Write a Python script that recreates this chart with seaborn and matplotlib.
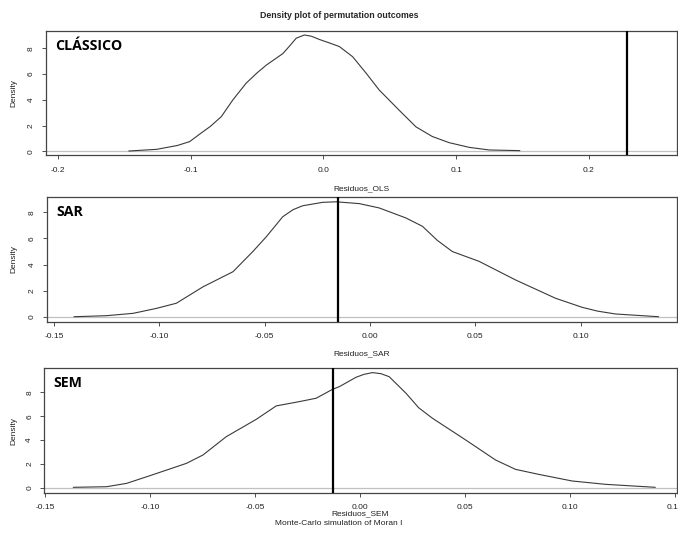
import numpy as np
import pandas as pd
import matplotlib
matplotlib.use("Agg")
import matplotlib.pyplot as plt
import seaborn as sns

# density curves (x = residual Moran I, y = density)
ols_x = [-0.1466, -0.1256, -0.11, -0.1008, -0.093, -0.085, -0.0769, -0.0682, -0.0582, -0.05,
         -0.0431, -0.0306, -0.025, -0.0205, -0.0143, -0.009, -0.003, 0.004, 0.012, 0.022,
         0.032, 0.042, 0.057, 0.0697, 0.082, 0.0947, 0.11, 0.125, 0.148]
ols_y = [0.02, 0.15, 0.45, 0.75, 1.35, 1.95, 2.7, 4.0, 5.3, 6.1,
         6.7, 7.6, 8.25, 8.8, 9.05, 8.95, 8.7, 8.45, 8.15, 7.36,
         6.1, 4.77, 3.2, 1.9, 1.15, 0.67, 0.3, 0.1, 0.05]

sar_x = [-0.1405, -0.125, -0.1124, -0.1013, -0.0919, -0.0793, -0.065, -0.0556, -0.0492,
         -0.0414, -0.0365, -0.0319, -0.0224, -0.016, -0.005, 0.0044, 0.017, 0.0249, 0.032,
         0.0391, 0.0518, 0.0691, 0.0881, 0.1007, 0.108, 0.1165, 0.137]
sar_y = [0.02, 0.1, 0.28, 0.66, 1.05, 2.3, 3.46, 5.0, 6.13,
         7.66, 8.2, 8.5, 8.76, 8.8, 8.66, 8.33, 7.57, 6.93, 5.85,
         5.0, 4.25, 2.83, 1.43, 0.74, 0.45, 0.23, 0.02]

sem_x = [-0.1366, -0.1207, -0.1112, -0.1001, -0.0827, -0.0748, -0.0637, -0.0494, -0.0399,
         -0.0288, -0.0209, -0.013, -0.0098, -0.0019, 0.002, 0.006, 0.01, 0.0139, 0.0219,
         0.028, 0.0345, 0.0504, 0.0646, 0.0741, 0.0852, 0.101, 0.1169, 0.1407]
sem_y = [0.06, 0.11, 0.39, 1.03, 2.06, 2.76, 4.29, 5.74, 6.86,
         7.22, 7.5, 8.25, 8.47, 9.25, 9.5, 9.64, 9.55, 9.3, 7.92,
         6.7, 5.83, 4.01, 2.34, 1.56, 1.14, 0.59, 0.31, 0.06]

# observed Moran I for each model
observed = [0.229, -0.0153, -0.013]

names = ["CLÁSSICO", "SAR", "SEM"]
xlabels = ["Residuos_OLS", "Residuos_SAR", "Residuos_SEM"]
xticks = [[-0.2, -0.1, 0.0, 0.1, 0.2],
          [-0.15, -0.10, -0.05, 0.00, 0.05, 0.10],
          [-0.15, -0.10, -0.05, 0.00, 0.05, 0.10, 0.15]]
xticklabels = [["-0.2", "-0.1", "0.0", "0.1", "0.2"],
               ["-0.15", "-0.10", "-0.05", "0.00", "0.05", "0.10"],
               ["-0.15", "-0.10", "-0.05", "0.00", "0.05", "0.10", "0.15"]]
yticks = [0, 2, 4, 6, 8]

sns.set_style("ticks")
plt.rcParams["font.family"] = ["Liberation Sans", "DejaVu Sans"]

fig = plt.figure(figsize=(6.78, 5.35), dpi=100)

# panel boxes in pixels: left, top, bottom ; plus axis limits
boxes = [(46, 31, 155.5), (47, 196.7, 321.7), (44.3, 368.3, 493.3)]
xlab_top = [185, 350.5, 510.5]
xlims = [(-0.209, 0.266), (-0.1533, 0.1455), (-0.1504, 0.1508)]
ylims = [(-0.33, 9.36), (-0.36, 9.19), (-0.44, 10.0)]
W, H = 678, 535

curves = [(ols_x, ols_y), (sar_x, sar_y), (sem_x, sem_y)]

for i in range(3):
    l, t, b = boxes[i]
    ax = fig.add_axes([l / W, 1 - b / H, (676.5 - l) / W, (b - t) / H])
    df = pd.DataFrame({"x": curves[i][0], "y": curves[i][1]})
    ax.axhline(0, color="#c0c0c0", lw=0.9, zorder=1)
    sns.lineplot(data=df, x="x", y="y", ax=ax, color="#3a3a3a", lw=0.8, zorder=2)
    ax.axvline(observed[i], color="black", lw=1.6, zorder=3)
    ax.set_xlim(*xlims[i])
    ax.set_ylim(*ylims[i])
    ax.set_xticks(xticks[i])
    ax.set_xticklabels(xticklabels[i])
    ax.set_yticks(yticks)
    ax.set_yticklabels([str(v) for v in yticks], rotation=90, va="center")
    ax.tick_params(axis="both", labelsize=6, length=3, width=0.6, color="#333333",
                   labelcolor="#222222")
    ax.tick_params(axis="x", pad=5)
    ax.tick_params(axis="y", pad=5)
    for s in ax.spines.values():
        s.set_linewidth(0.9)
        s.set_color("#444444")
    ax.set_xlabel(xlabels[i], fontsize=6, color="#222222")
    ax.xaxis.set_label_coords(0.5, (b - xlab_top[i]) / (b - t))
    ax.set_ylabel("Density", fontsize=6, color="#222222")
    ax.yaxis.set_label_coords((17 - l) / (676.5 - l), 0.5)
    ax.text(9 / (676.5 - l), 1 - 15 / (b - t), names[i], transform=ax.transAxes,
            fontsize=10.2, fontweight="bold", family=["Open Sans", "DejaVu Sans"],
            va="center", ha="left", color="black")

fig.text(0.5, 1 - 15 / H, "Density plot of permutation outcomes", ha="center",
         va="center", fontsize=6.3, fontweight="bold")
fig.text(0.5, 1 - 523.5 / H, "Monte-Carlo simulation of Moran I", ha="center",
         va="center", fontsize=6, color="#222222")

fig.savefig("out.png", dpi=100, facecolor="white")
